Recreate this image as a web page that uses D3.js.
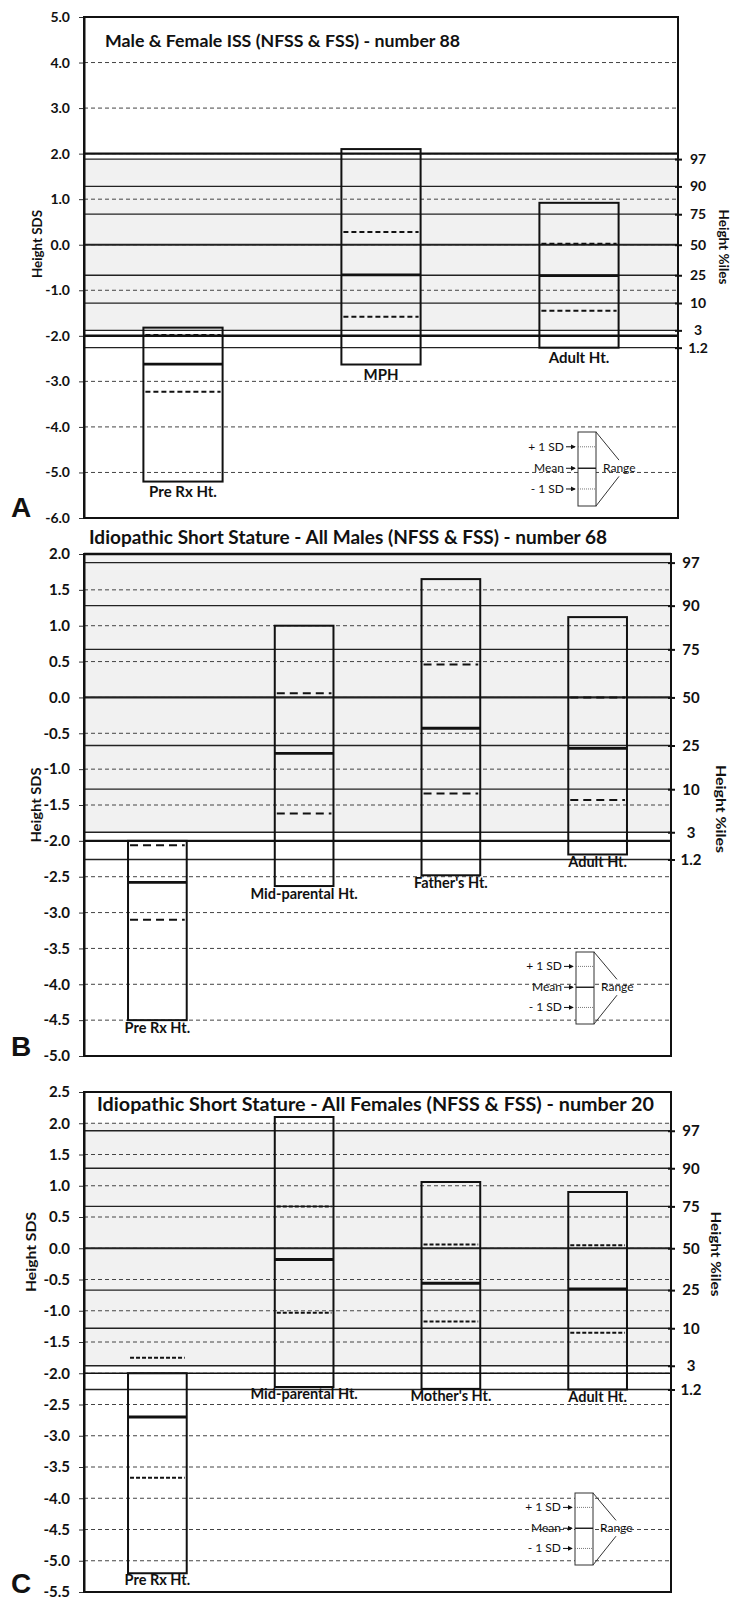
<!DOCTYPE html>
<html>
<head>
<meta charset="utf-8">
<script src="https://cdn.jsdelivr.net/npm/d3@7"></script>
<style>
  body { margin: 0; background: #fff; }
  text { font-family: Lato, "Open Sans", sans-serif; fill: #111; }
</style>
</head>
<body>
<div id="canvas"></div>
<script>
// percentile reference lines (SDS value and label)
const pctLabels = ["97", "90", "75", "50", "25", "10", "3", "1.2"];
const pctSds = [1.88, 1.28, 0.67, 0, -0.67, -1.28, -1.88, -2.26];

// legend texts
const legendLabels = ["+ 1 SD", "Mean", "- 1 SD"];
const legendRange = "Range";

// panel A
const titleA = "Male & Female ISS (NFSS & FSS) - number 88";
const catsA = ["Pre Rx Ht.", "MPH", "Adult Ht."];
const maxA = [-1.82, 2.1, 0.92];
const plusSdA = [-1.98, 0.28, 0.02];
const meanA = [-2.62, -0.66, -0.68];
const minusSdA = [-3.23, -1.58, -1.45];
const minA = [-5.2, -2.63, -2.26];

// panel B
const titleB = "Idiopathic Short Stature - All Males (NFSS & FSS) - number 68";
const catsB = ["Pre Rx Ht.", "Mid-parental Ht.", "Father's Ht.", "Adult Ht."];
const maxB = [-2.0, 1.0, 1.65, 1.12];
const plusSdB = [-2.06, 0.06, 0.46, 0.0];
const meanB = [-2.58, -0.78, -0.43, -0.71];
const minusSdB = [-3.1, -1.62, -1.34, -1.43];
const minB = [-4.5, -2.63, -2.48, -2.19];

// panel C
const titleC = "Idiopathic Short Stature - All Females (NFSS & FSS) - number 20";
const catsC = ["Pre Rx Ht.", "Mid-parental Ht.", "Mother's Ht.", "Adult Ht."];
const maxC = [-2.0, 2.1, 1.06, 0.9];
const plusSdC = [-1.75, 0.67, 0.06, 0.05];
const meanC = [-2.7, -0.18, -0.56, -0.65];
const minusSdC = [-3.67, -1.03, -1.17, -1.35];
const minC = [-5.2, -2.22, -2.25, -2.26];

const svg = d3.select("#canvas")
  .append("svg")
  .attr("width", 732)
  .attr("height", 1600);

svg.append("defs").append("marker")
  .attr("id", "arrow")
  .attr("viewBox", "0 0 6 6")
  .attr("refX", 5).attr("refY", 3)
  .attr("markerWidth", 5).attr("markerHeight", 5)
  .attr("orient", "auto")
  .append("path")
  .attr("d", "M0,0L6,3L0,6Z")
  .attr("fill", "#111");

const fmt = d => d.toFixed(1);

function drawPanel(cfg, cats, maxs, plus, means, minus, mins, title) {
  const g = svg.append("g");
  const [lo, hi] = cfg.domain;
  const y = d3.scaleLinear().domain(cfg.domain).range([cfg.bottom, cfg.top]);
  const x = d3.scaleBand().domain(cats).range([cfg.left, cfg.right]);
  const bw = x.bandwidth() * 0.4;
  const ticks = d3.range(Math.round((hi - lo) / cfg.step) + 1).map(i => lo + i * cfg.step);

  // grey normal band
  g.append("rect")
    .attr("x", cfg.left).attr("y", y(cfg.bandTop))
    .attr("width", cfg.right - cfg.left)
    .attr("height", y(-1.88) - y(cfg.bandTop))
    .attr("fill", "#f1f1f1");

  // dashed grid
  g.selectAll(".grid")
    .data(ticks.slice(1, -1))
    .join("line")
    .attr("x1", cfg.left).attr("x2", cfg.right)
    .attr("y1", d => y(d)).attr("y2", d => y(d))
    .attr("stroke", "#444").attr("stroke-width", 1)
    .style("stroke-dasharray", "4,3");

  // percentile lines
  g.selectAll(".pct")
    .data(pctSds)
    .join("line")
    .attr("x1", cfg.left).attr("x2", cfg.right)
    .attr("y1", d => y(d)).attr("y2", d => y(d))
    .attr("stroke", "#222")
    .attr("stroke-width", d => d === 0 ? 2.2 : 1.3);

  // +/- 2 SD lines
  g.selectAll(".sd2")
    .data(cfg.sdLines)
    .join("line")
    .attr("x1", cfg.left).attr("x2", cfg.right)
    .attr("y1", d => y(d)).attr("y2", d => y(d))
    .attr("stroke", "#111").attr("stroke-width", cfg.sdWidth);

  // left axis
  const ax = g.append("g")
    .attr("transform", "translate(" + cfg.left + ",0)")
    .call(d3.axisLeft(y).tickValues(ticks).tickFormat(fmt).tickSize(5).tickSizeOuter(0));
  ax.select(".domain").attr("stroke", "#111").attr("stroke-width", 2);
  ax.selectAll(".tick line").attr("stroke", "#333");
  ax.selectAll(".tick text")
    .attr("x", -14)
    .style("font-family", "Lato, sans-serif")
    .style("font-weight", "bold")
    .style("font-size", cfg.tickSize + "px")
    .attr("fill", "#222");

  // right percentile axis
  const ar = g.append("g")
    .attr("transform", "translate(" + cfg.right + ",0)")
    .call(d3.axisRight(y).tickValues(pctSds).tickFormat((d, i) => pctLabels[i]).tickSize(4).tickSizeOuter(0));
  ar.select(".domain").remove();
  ar.selectAll(".tick line").attr("x1", -3).attr("stroke", "#111").attr("stroke-width", 2);
  ar.selectAll(".tick text")
    .attr("x", 20)
    .attr("text-anchor", "middle")
    .style("font-family", "Lato, sans-serif")
    .style("font-weight", "bold")
    .style("font-size", cfg.tickSize + "px")
    .attr("fill", "#222");

  // plot border
  g.append("rect")
    .attr("x", cfg.left).attr("y", cfg.top)
    .attr("width", cfg.right - cfg.left).attr("height", cfg.bottom - cfg.top)
    .attr("fill", "none").attr("stroke", "#111").attr("stroke-width", 2);

  // range boxes
  const bars = g.selectAll(".bar")
    .data(cats)
    .join("g");

  bars.append("rect")
    .attr("x", d => x(d) + (x.bandwidth() - bw) / 2)
    .attr("y", (d, i) => y(maxs[i]))
    .attr("width", bw)
    .attr("height", (d, i) => y(mins[i]) - y(maxs[i]))
    .attr("fill", "none").attr("stroke", "#111").attr("stroke-width", 2);

  bars.append("line")
    .attr("x1", d => x(d) + (x.bandwidth() - bw) / 2)
    .attr("x2", d => x(d) + (x.bandwidth() + bw) / 2)
    .attr("y1", (d, i) => y(means[i])).attr("y2", (d, i) => y(means[i]))
    .attr("stroke", "#111").attr("stroke-width", 2.8);

  [plus, minus].forEach(vals => {
    bars.append("line")
      .attr("x1", d => x(d) + (x.bandwidth() - bw) / 2 + 2)
      .attr("x2", d => x(d) + (x.bandwidth() + bw) / 2 - 2)
      .attr("y1", (d, i) => y(vals[i])).attr("y2", (d, i) => y(vals[i]))
      .attr("stroke", "#111").attr("stroke-width", 2)
      .style("stroke-dasharray", cfg.sdDash);
  });

  bars.append("text")
    .attr("x", d => x(d) + x.bandwidth() / 2)
    .attr("y", (d, i) => y(mins[i]) + cfg.labelGap)
    .attr("text-anchor", "middle")
    .style("font-size", cfg.labelSize + "px")
    .style("font-weight", "bold")
    .attr("fill", "#222")
    .text(d => d);

  // titles
  g.append("text")
    .attr("x", cfg.titleX).attr("y", cfg.titleY)
    .attr("textLength", cfg.titleWidth)
    .attr("lengthAdjust", "spacingAndGlyphs")
    .style("font-size", cfg.titleSize + "px")
    .style("font-weight", "bold")
    .text(title);

  g.append("text")
    .attr("transform", "translate(" + cfg.sdsX + "," + cfg.sdsY + ") rotate(-90)")
    .attr("text-anchor", "middle")
    .attr("textLength", cfg.sdsWidth)
    .attr("lengthAdjust", "spacingAndGlyphs")
    .style("font-size", cfg.axisTitleSize + "px")
    .style("font-weight", "bold")
    .text("Height SDS");

  g.append("text")
    .attr("transform", "translate(" + (cfg.right + cfg.pctTitleDx) + "," + cfg.pctY + ") rotate(90)")
    .attr("text-anchor", "middle")
    .attr("textLength", cfg.pctWidth)
    .attr("lengthAdjust", "spacingAndGlyphs")
    .style("font-size", cfg.axisTitleSize + "px")
    .style("font-weight", "bold")
    .text("Height %iles");

  g.append("text")
    .attr("x", 11).attr("y", cfg.letterY)
    .style("font-family", "'Liberation Sans', Arial, sans-serif")
    .style("font-size", "28px")
    .style("font-weight", "bold")
    .text(cfg.letter);

  // key
  const k = cfg.key;
  const kg = g.append("g");
  kg.append("rect")
    .attr("x", k.x).attr("y", k.y).attr("width", 18).attr("height", k.h)
    .attr("fill", "#fff").attr("stroke", "#333").attr("stroke-width", 1);
  const keyY = [k.y + k.h * 0.2, k.y + k.h * 0.49, k.y + k.h * 0.77];
  keyY.forEach((ky, i) => {
    kg.append("line")
      .attr("x1", k.x).attr("x2", k.x + 18)
      .attr("y1", ky).attr("y2", ky)
      .attr("stroke", i === 1 ? "#222" : "#777")
      .attr("stroke-width", i === 1 ? 1.5 : 1)
      .style("stroke-dasharray", i === 1 ? null : "1,1");
    kg.append("line")
      .attr("x1", k.x - 12).attr("x2", k.x - 3)
      .attr("y1", ky).attr("y2", ky)
      .attr("stroke", "#111").attr("stroke-width", 1)
      .attr("marker-end", "url(#arrow)");
    kg.append("text")
      .attr("x", k.x - 14).attr("y", ky + 4)
      .attr("text-anchor", "end")
      .style("font-size", "12px")
      .text(legendLabels[i]);
  });
  kg.append("line")
    .attr("x1", k.x + 18).attr("y1", k.y)
    .attr("x2", k.x + 41).attr("y2", k.y + k.h * 0.38)
    .attr("stroke", "#333").attr("stroke-width", 1);
  kg.append("line")
    .attr("x1", k.x + 18).attr("y1", k.y + k.h)
    .attr("x2", k.x + 41).attr("y2", k.y + k.h * 0.6)
    .attr("stroke", "#333").attr("stroke-width", 1);
  kg.append("text")
    .attr("x", k.x + 25).attr("y", k.y + k.h * 0.49 + 4)
    .style("font-size", "12px")
    .text(legendRange);
}

drawPanel({
  left: 84, right: 678, top: 17, bottom: 518, domain: [-6, 5], step: 1,
  bandTop: 1.88, sdLines: [2, -2], sdWidth: 2.4, sdDash: "5,3",
  tickSize: 14, labelSize: 15, labelGap: 15,
  titleX: 105, titleY: 47, titleWidth: 355, titleSize: 17.7,
  sdsX: 42, sdsY: 244, sdsWidth: 68, axisTitleSize: 13,
  pctTitleDx: 41, pctY: 247, pctWidth: 75,
  letter: "A", letterY: 517,
  key: {x: 578, y: 432, h: 74}
}, catsA, maxA, plusSdA, meanA, minusSdA, minA, titleA);

drawPanel({
  left: 84, right: 671, top: 554, bottom: 1056, domain: [-5, 2], step: 0.5,
  bandTop: 2, sdLines: [2, -2], sdWidth: 2.4, sdDash: "8,5",
  tickSize: 15, labelSize: 14.5, labelGap: 13,
  titleX: 89, titleY: 544, titleWidth: 518, titleSize: 19,
  sdsX: 41, sdsY: 805, sdsWidth: 75, axisTitleSize: 14,
  pctTitleDx: 45, pctY: 809, pctWidth: 88,
  letter: "B", letterY: 1056,
  key: {x: 576, y: 952, h: 72}
}, catsB, maxB, plusSdB, meanB, minusSdB, minB, titleB);

drawPanel({
  left: 84, right: 671, top: 1092, bottom: 1592, domain: [-5.5, 2.5], step: 0.5,
  bandTop: 2, sdLines: [-2], sdWidth: 1.3, sdDash: "4,2",
  tickSize: 15, labelSize: 14.5, labelGap: 12,
  titleX: 97, titleY: 1111, titleWidth: 557, titleSize: 18.8,
  sdsX: 36, sdsY: 1252, sdsWidth: 80, axisTitleSize: 14,
  pctTitleDx: 40, pctY: 1254, pctWidth: 85,
  letter: "C", letterY: 1593,
  key: {x: 575, y: 1493, h: 72}
}, catsC, maxC, plusSdC, meanC, minusSdC, minC, titleC);
</script>
</body>
</html>
